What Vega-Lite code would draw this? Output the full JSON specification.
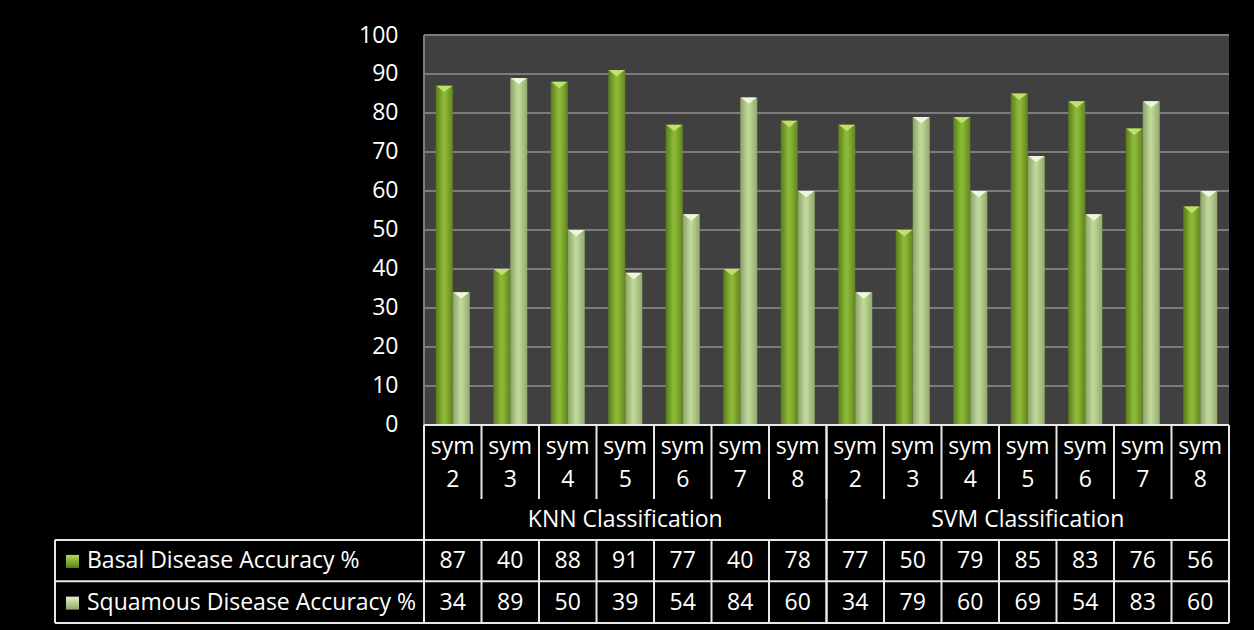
{
  "$schema": "https://vega.github.io/schema/vega-lite/v6.json",
  "background": "#000000",
  "padding": {"left": 54, "top": 24, "right": 26, "bottom": 8},
  "config": {
    "view": {"stroke": null},
    "font": "Open Sans",
    "text": {"font": "Open Sans", "fontSize": 23, "color": "#ffffff"}
  },
  "datasets": {
    "acc": [
      {"col": "KNN sym 2", "clf": "KNN Classification", "sym": "sym 2", "series": "Basal Disease Accuracy %", "value": 87},
      {"col": "KNN sym 3", "clf": "KNN Classification", "sym": "sym 3", "series": "Basal Disease Accuracy %", "value": 40},
      {"col": "KNN sym 4", "clf": "KNN Classification", "sym": "sym 4", "series": "Basal Disease Accuracy %", "value": 88},
      {"col": "KNN sym 5", "clf": "KNN Classification", "sym": "sym 5", "series": "Basal Disease Accuracy %", "value": 91},
      {"col": "KNN sym 6", "clf": "KNN Classification", "sym": "sym 6", "series": "Basal Disease Accuracy %", "value": 77},
      {"col": "KNN sym 7", "clf": "KNN Classification", "sym": "sym 7", "series": "Basal Disease Accuracy %", "value": 40},
      {"col": "KNN sym 8", "clf": "KNN Classification", "sym": "sym 8", "series": "Basal Disease Accuracy %", "value": 78},
      {"col": "SVM sym 2", "clf": "SVM Classification", "sym": "sym 2", "series": "Basal Disease Accuracy %", "value": 77},
      {"col": "SVM sym 3", "clf": "SVM Classification", "sym": "sym 3", "series": "Basal Disease Accuracy %", "value": 50},
      {"col": "SVM sym 4", "clf": "SVM Classification", "sym": "sym 4", "series": "Basal Disease Accuracy %", "value": 79},
      {"col": "SVM sym 5", "clf": "SVM Classification", "sym": "sym 5", "series": "Basal Disease Accuracy %", "value": 85},
      {"col": "SVM sym 6", "clf": "SVM Classification", "sym": "sym 6", "series": "Basal Disease Accuracy %", "value": 83},
      {"col": "SVM sym 7", "clf": "SVM Classification", "sym": "sym 7", "series": "Basal Disease Accuracy %", "value": 76},
      {"col": "SVM sym 8", "clf": "SVM Classification", "sym": "sym 8", "series": "Basal Disease Accuracy %", "value": 56},
      {"col": "KNN sym 2", "clf": "KNN Classification", "sym": "sym 2", "series": "Squamous Disease Accuracy %", "value": 34},
      {"col": "KNN sym 3", "clf": "KNN Classification", "sym": "sym 3", "series": "Squamous Disease Accuracy %", "value": 89},
      {"col": "KNN sym 4", "clf": "KNN Classification", "sym": "sym 4", "series": "Squamous Disease Accuracy %", "value": 50},
      {"col": "KNN sym 5", "clf": "KNN Classification", "sym": "sym 5", "series": "Squamous Disease Accuracy %", "value": 39},
      {"col": "KNN sym 6", "clf": "KNN Classification", "sym": "sym 6", "series": "Squamous Disease Accuracy %", "value": 54},
      {"col": "KNN sym 7", "clf": "KNN Classification", "sym": "sym 7", "series": "Squamous Disease Accuracy %", "value": 84},
      {"col": "KNN sym 8", "clf": "KNN Classification", "sym": "sym 8", "series": "Squamous Disease Accuracy %", "value": 60},
      {"col": "SVM sym 2", "clf": "SVM Classification", "sym": "sym 2", "series": "Squamous Disease Accuracy %", "value": 34},
      {"col": "SVM sym 3", "clf": "SVM Classification", "sym": "sym 3", "series": "Squamous Disease Accuracy %", "value": 79},
      {"col": "SVM sym 4", "clf": "SVM Classification", "sym": "sym 4", "series": "Squamous Disease Accuracy %", "value": 60},
      {"col": "SVM sym 5", "clf": "SVM Classification", "sym": "sym 5", "series": "Squamous Disease Accuracy %", "value": 69},
      {"col": "SVM sym 6", "clf": "SVM Classification", "sym": "sym 6", "series": "Squamous Disease Accuracy %", "value": 54},
      {"col": "SVM sym 7", "clf": "SVM Classification", "sym": "sym 7", "series": "Squamous Disease Accuracy %", "value": 83},
      {"col": "SVM sym 8", "clf": "SVM Classification", "sym": "sym 8", "series": "Squamous Disease Accuracy %", "value": 60}
    ],
    "grid": [
      {"tick": 10}, {"tick": 20}, {"tick": 30}, {"tick": 40}, {"tick": 50},
      {"tick": 60}, {"tick": 70}, {"tick": 80}, {"tick": 90}, {"tick": 100}
    ],
    "series": [
      {"series": "Basal Disease Accuracy %"},
      {"series": "Squamous Disease Accuracy %"}
    ],
    "one": [{}]
  },
  "hconcat": [
    {
      "width": 369,
      "height": 588,
      "data": {"name": "one"},
      "layer": [
        {
          "mark": {"type": "rule", "stroke": "#e8e8e8", "strokeWidth": 2},
          "encoding": {"y": {"datum": -29.5, "type": "quantitative", "scale": {"domain": [-50.8, 100], "nice": false, "zero": false}, "axis": null}}
        },
        {
          "mark": {"type": "rule", "stroke": "#e8e8e8", "strokeWidth": 2},
          "encoding": {"y": {"datum": -40.1, "type": "quantitative"}}
        },
        {
          "mark": {"type": "rule", "stroke": "#e8e8e8", "strokeWidth": 2},
          "encoding": {"y": {"datum": -50.8, "type": "quantitative"}}
        },
        {
          "mark": {"type": "rule", "stroke": "#e8e8e8", "strokeWidth": 2},
          "encoding": {
            "x": {"datum": 0, "type": "quantitative", "scale": {"domain": [0, 1]}, "axis": null},
            "y": {"datum": -29.5, "type": "quantitative"},
            "y2": {"datum": -50.8}
          }
        },
        {
          "data": {"name": "series"},
          "transform": [{"filter": "datum.series === 'Basal Disease Accuracy %'"}],
          "layer": [
            {
              "mark": {"type": "point", "shape": "square", "filled": true, "size": 169, "xOffset": 17.5, "yOffset": -7, "opacity": 1,
                "fill": {"gradient": "linear", "x1": 0, "y1": 0, "x2": 0, "y2": 1, "stops": [{"offset": 0, "color": "#b6d86a"}, {"offset": 0.5, "color": "#86ad35"}, {"offset": 1, "color": "#5f8220"}]}},
              "encoding": {"x": {"datum": 0, "type": "quantitative"}, "y": {"datum": -36.8, "type": "quantitative"}}
            },
            {
              "mark": {"type": "text", "align": "left", "baseline": "alphabetic", "dx": 32},
              "encoding": {"x": {"datum": 0, "type": "quantitative"}, "y": {"datum": -36.8, "type": "quantitative"}, "text": {"field": "series"}}
            }
          ]
        },
        {
          "data": {"name": "series"},
          "transform": [{"filter": "datum.series === 'Squamous Disease Accuracy %'"}],
          "layer": [
            {
              "mark": {"type": "point", "shape": "square", "filled": true, "size": 169, "xOffset": 17.5, "yOffset": -7, "opacity": 1,
                "fill": {"gradient": "linear", "x1": 0, "y1": 0, "x2": 0, "y2": 1, "stops": [{"offset": 0, "color": "#e4efcf"}, {"offset": 0.5, "color": "#b9cf92"}, {"offset": 1, "color": "#8fa86a"}]}},
              "encoding": {"x": {"datum": 0, "type": "quantitative"}, "y": {"datum": -47.5, "type": "quantitative"}}
            },
            {
              "mark": {"type": "text", "align": "left", "baseline": "alphabetic", "dx": 32},
              "encoding": {"x": {"datum": 0, "type": "quantitative"}, "y": {"datum": -47.5, "type": "quantitative"}, "text": {"field": "series"}}
            }
          ]
        }
      ]
    },
    {
      "width": 805,
      "height": 588,
      "encoding": {
        "x": {"field": "col", "type": "nominal", "sort": null, "axis": null, "scale": {"paddingInner": 0, "paddingOuter": 0}},
        "y": {"type": "quantitative", "scale": {"domain": [-50.8, 100], "nice": false, "zero": false},
          "axis": {"values": [0, 10, 20, 30, 40, 50, 60, 70, 80, 90, 100], "domain": false, "ticks": false, "grid": false,
            "labelColor": "#ffffff", "labelFont": "Open Sans", "labelFontSize": 23, "labelPadding": 26, "title": null}}
      },
      "layer": [
        {
          "data": {"name": "one"},
          "mark": {"type": "rect", "fill": "#404040"},
          "encoding": {"x": null, "y": {"datum": 100, "type": "quantitative"}, "y2": {"datum": 0}}
        },
        {
          "data": {"name": "grid"},
          "mark": {"type": "rule", "stroke": "#7c7c7c", "strokeWidth": 2},
          "encoding": {"x": null, "y": {"field": "tick", "type": "quantitative"}}
        },
        {
          "data": {"name": "acc"},
          "transform": [{"filter": "datum.col === 'KNN sym 2' && datum.series === 'Basal Disease Accuracy %'"}],
          "mark": {"type": "rule", "stroke": "#7c7c7c", "strokeWidth": 2},
          "encoding": {"x": {"field": "col", "type": "nominal", "bandPosition": 0}, "y": {"datum": 100, "type": "quantitative"}, "y2": {"datum": 0}}
        },
        {
          "data": {"name": "acc"},
          "transform": [{"filter": "datum.series === 'Basal Disease Accuracy %'"}],
          "layer": [
            {
              "mark": {"type": "bar",
                "fill": {"gradient": "linear", "x1": 0, "y1": 0, "x2": 1, "y2": 0, "stops": [{"offset": 0, "color": "#5a7b1b"}, {"offset": 0.45, "color": "#8dba38"}, {"offset": 0.6, "color": "#89b435"}, {"offset": 1, "color": "#62841f"}]}},
              "encoding": {
                "xOffset": {"field": "series", "type": "nominal", "scale": {"domain": ["Basal Disease Accuracy %", "Squamous Disease Accuracy %"], "paddingInner": 0, "paddingOuter": 0.691}},
                "y": {"field": "value", "type": "quantitative"},
                "y2": {"datum": 0}
              }
            },
            {
              "mark": {"type": "point", "shape": "M-1,0L1,0L0,0.8Z", "filled": true, "size": 256, "opacity": 1, "fill": "#bfe26f"},
              "encoding": {
                "xOffset": {"field": "series", "type": "nominal"},
                "y": {"field": "value", "type": "quantitative"}
              }
            }
          ]
        },
        {
          "data": {"name": "acc"},
          "transform": [{"filter": "datum.series === 'Squamous Disease Accuracy %'"}],
          "layer": [
            {
              "mark": {"type": "bar",
                "fill": {"gradient": "linear", "x1": 0, "y1": 0, "x2": 1, "y2": 0, "stops": [{"offset": 0, "color": "#8aa266"}, {"offset": 0.45, "color": "#c2d99c"}, {"offset": 0.6, "color": "#b8d090"}, {"offset": 1, "color": "#91aa6c"}]}},
              "encoding": {
                "xOffset": {"field": "series", "type": "nominal"},
                "y": {"field": "value", "type": "quantitative"},
                "y2": {"datum": 0}
              }
            },
            {
              "mark": {"type": "point", "shape": "M-1,0L1,0L0,0.8Z", "filled": true, "size": 256, "opacity": 1, "fill": "#eef6df"},
              "encoding": {
                "xOffset": {"field": "series", "type": "nominal"},
                "y": {"field": "value", "type": "quantitative"}
              }
            }
          ]
        },
        {
          "data": {"name": "one"},
          "mark": {"type": "rule", "stroke": "#e8e8e8", "strokeWidth": 2},
          "encoding": {"x": null, "y": {"datum": 0, "type": "quantitative"}}
        },
        {
          "data": {"name": "one"},
          "mark": {"type": "rule", "stroke": "#e8e8e8", "strokeWidth": 2},
          "encoding": {"x": null, "y": {"datum": -29.5, "type": "quantitative"}}
        },
        {
          "data": {"name": "one"},
          "mark": {"type": "rule", "stroke": "#e8e8e8", "strokeWidth": 2},
          "encoding": {"x": null, "y": {"datum": -40.1, "type": "quantitative"}}
        },
        {
          "data": {"name": "one"},
          "mark": {"type": "rule", "stroke": "#e8e8e8", "strokeWidth": 2},
          "encoding": {"x": null, "y": {"datum": -50.8, "type": "quantitative"}}
        },
        {
          "data": {"name": "acc"},
          "transform": [{"filter": "datum.series === 'Basal Disease Accuracy %'"}],
          "mark": {"type": "rule", "stroke": "#e8e8e8", "strokeWidth": 2},
          "encoding": {"x": {"field": "col", "type": "nominal", "bandPosition": 0}, "y": {"datum": 0, "type": "quantitative"}, "y2": {"datum": -19}}
        },
        {
          "data": {"name": "acc"},
          "transform": [{"filter": "datum.series === 'Basal Disease Accuracy %'"}],
          "mark": {"type": "rule", "stroke": "#e8e8e8", "strokeWidth": 2},
          "encoding": {"x": {"field": "col", "type": "nominal", "bandPosition": 0}, "y": {"datum": -29.5, "type": "quantitative"}, "y2": {"datum": -50.8}}
        },
        {
          "data": {"name": "acc"},
          "transform": [{"filter": "datum.sym === 'sym 2' && datum.series === 'Basal Disease Accuracy %'"}],
          "mark": {"type": "rule", "stroke": "#e8e8e8", "strokeWidth": 2},
          "encoding": {"x": {"field": "col", "type": "nominal", "bandPosition": 0}, "y": {"datum": 0, "type": "quantitative"}, "y2": {"datum": -50.8}}
        },
        {
          "data": {"name": "acc"},
          "transform": [{"filter": "datum.col === 'SVM sym 8' && datum.series === 'Basal Disease Accuracy %'"}],
          "mark": {"type": "rule", "stroke": "#e8e8e8", "strokeWidth": 2},
          "encoding": {"x": {"field": "col", "type": "nominal", "bandPosition": 1}, "y": {"datum": 0, "type": "quantitative"}, "y2": {"datum": -50.8}}
        },
        {
          "data": {"name": "acc"},
          "transform": [{"filter": "datum.series === 'Basal Disease Accuracy %'"}],
          "mark": {"type": "text", "baseline": "alphabetic", "align": "center", "lineBreak": " ", "lineHeight": 33},
          "encoding": {"y": {"datum": -7.4, "type": "quantitative"}, "text": {"field": "sym"}}
        },
        {
          "data": {"name": "acc"},
          "transform": [{"filter": "datum.sym === 'sym 5' && datum.series === 'Basal Disease Accuracy %'"}],
          "mark": {"type": "text", "baseline": "alphabetic", "align": "center"},
          "encoding": {"y": {"datum": -26.3, "type": "quantitative"}, "text": {"field": "clf"}}
        },
        {
          "data": {"name": "acc"},
          "transform": [{"filter": "datum.series === 'Basal Disease Accuracy %'"}],
          "mark": {"type": "text", "baseline": "alphabetic", "align": "center"},
          "encoding": {"y": {"datum": -36.8, "type": "quantitative"}, "text": {"field": "value"}}
        },
        {
          "data": {"name": "acc"},
          "transform": [{"filter": "datum.series === 'Squamous Disease Accuracy %'"}],
          "mark": {"type": "text", "baseline": "alphabetic", "align": "center"},
          "encoding": {"y": {"datum": -47.5, "type": "quantitative"}, "text": {"field": "value"}}
        }
      ]
    }
  ],
  "spacing": 0,
  "bounds": "flush"
}
